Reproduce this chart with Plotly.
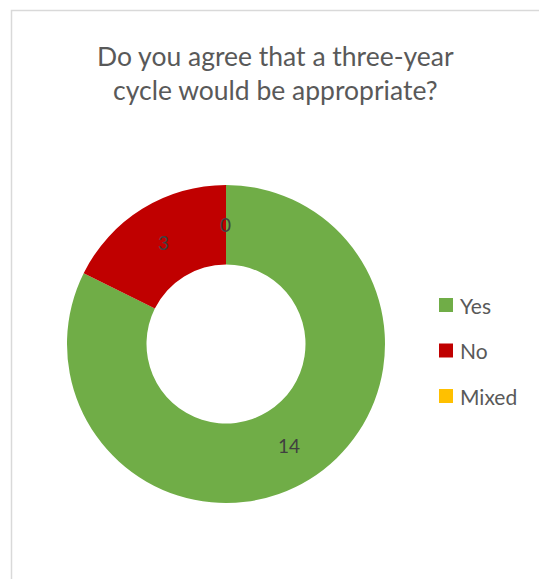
import math
import plotly.graph_objects as go

# Survey responses
categories = ["Yes", "No", "Mixed"]
counts = [14, 3, 0]
colors = ["#70AD47", "#C00000", "#FFC000"]
title_lines = ["Do you agree that a three-year", "cycle would be appropriate?"]

W, H = 539, 579
cx, cy, r_out = 226, 344, 159  # donut centre / radius in pixels (from top-left)
hole = 0.5

def px_x(x):
    return x / W

def px_y(y):
    return 1 - y / H

fig = go.Figure()
fig.add_trace(go.Pie(
    labels=categories,
    values=counts,
    hole=hole,
    sort=False,
    direction="clockwise",
    rotation=0,
    marker=dict(colors=colors, line=dict(width=0)),
    textinfo="none",
    hoverinfo="label+value",
    showlegend=False,
    domain=dict(x=[px_x(cx - r_out), px_x(cx + r_out)],
                y=[px_y(cy + r_out), px_y(cy - r_out)]),
))

# Data labels placed at the middle of the ring for each slice
total = sum(counts)
r_mid = r_out * (1 + hole) / 2
start = 0.0
for cat, v in zip(categories, counts):
    sweep = 360.0 * v / total
    mid = math.radians(start + sweep / 2)
    lx = cx + r_mid * math.sin(mid)
    ly = cy - r_mid * math.cos(mid)
    fig.add_annotation(x=px_x(lx), y=px_y(ly), xref="paper", yref="paper",
                       text=str(v), showarrow=False,
                       font=dict(family="Lato, Carlito, Calibri, sans-serif", size=19, color="#404040"),
                       xanchor="center", yanchor="middle")
    start += sweep

# Legend drawn as coloured squares with labels
leg_x, leg_y0, leg_dy, sq = 439, 305, 45.5, 14
for i, (cat, col) in enumerate(zip(categories, colors)):
    y = leg_y0 + i * leg_dy
    fig.add_shape(type="rect", xref="paper", yref="paper",
                  x0=px_x(leg_x), x1=px_x(leg_x + sq),
                  y0=px_y(y + sq / 2), y1=px_y(y - sq / 2),
                  fillcolor=col, line=dict(width=0))
    fig.add_annotation(x=px_x(leg_x + sq + 5), y=px_y(y), xref="paper", yref="paper",
                       text=cat, showarrow=False, xanchor="left", yanchor="middle",
                       font=dict(family="Lato, Carlito, Calibri, sans-serif", size=21, color="#595959"))

# Title
fig.add_annotation(x=px_x(275), y=px_y(73), xref="paper", yref="paper",
                   text="<br>".join(title_lines), showarrow=False,
                   xanchor="center", yanchor="middle", align="center",
                   font=dict(family="Lato, Carlito, Calibri, sans-serif", size=26.5, color="#595959"))

# Chart area border
fig.add_shape(type="rect", xref="paper", yref="paper",
              x0=px_x(11.5), x1=px_x(W + 10), y0=px_y(H + 10), y1=px_y(10.5),
              line=dict(color="#D9D9D9", width=1.5), fillcolor="rgba(0,0,0,0)")

fig.update_layout(width=W, height=H, margin=dict(l=0, r=0, t=0, b=0),
                  paper_bgcolor="white", plot_bgcolor="white")
fig.write_html("out.html")
